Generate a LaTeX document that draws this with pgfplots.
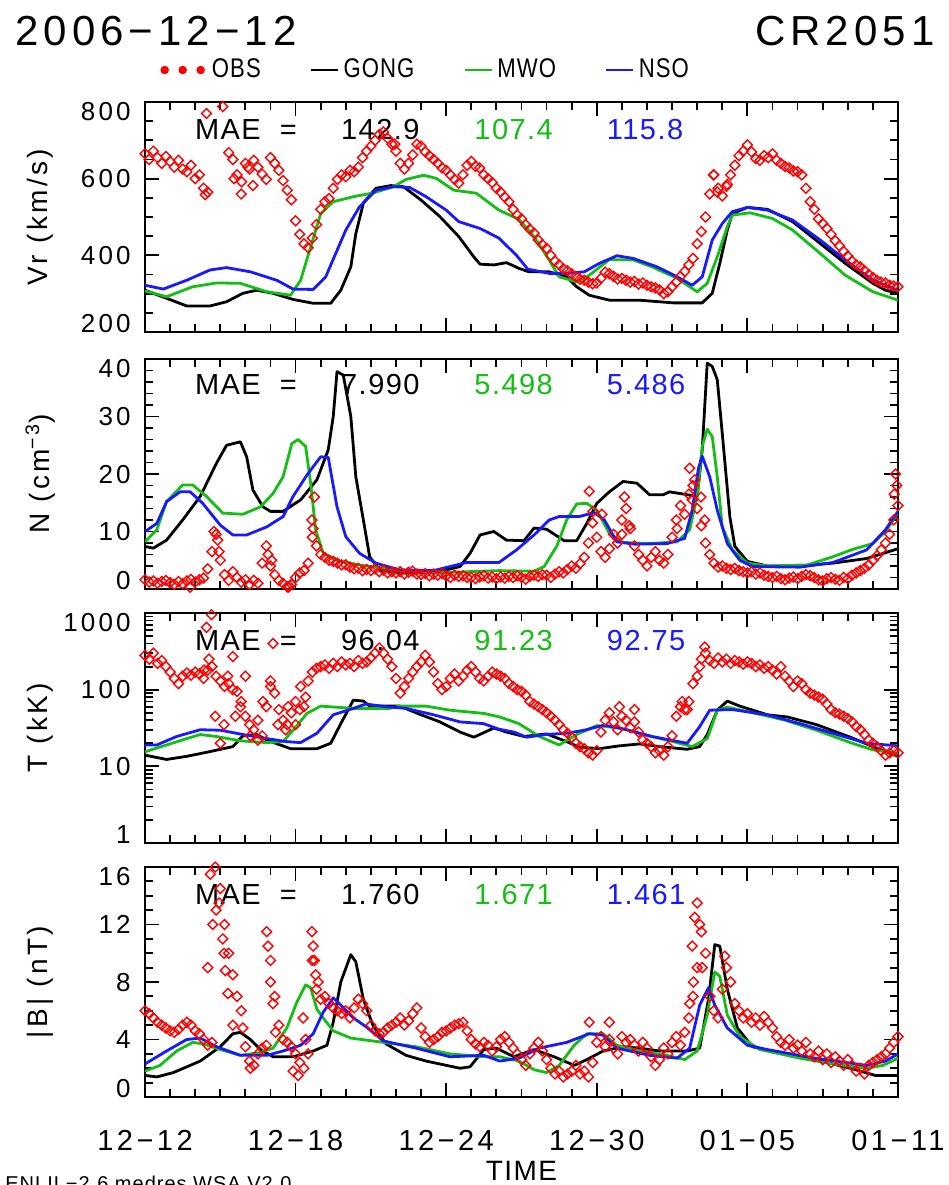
\documentclass[border=0pt]{standalone}
\usepackage{fontspec}
\setmainfont{Liberation Sans}[LetterSpace=12]
\newfontfamily\maefont{Liberation Sans}[LetterSpace=5]
\newfontfamily\legfont{Liberation Sans}[FakeStretch=0.82, LetterSpace=4]
\usepackage{pgfplots}
\usepackage{pgfplotstable}
\pgfplotsset{compat=1.18}

\definecolor{obsred}{RGB}{255,0,0}
\definecolor{mwogreen}{RGB}{20,190,20}
\definecolor{nsoblue}{RGB}{25,25,255}
\newcommand{\fsz}[1]{\fontsize{#1}{#1}\selectfont}
% first and last tick labels sit inside the axis span
\newcommand{\lo}[1]{\raisebox{4.65pt}{#1}}
\newcommand{\hi}[1]{\raisebox{-4.65pt}{#1}}

% Observed hourly-averaged solar wind, resampled every 4 hours (6 values per day from 12-12 00UT)
\pgfplotstableread[row sep=\\]{v\\
665\\650\\672\\655\\640\\658\\ 645\\630\\648\\625\\618\\635\\ 600\\610\\575\\565\\nan\\nan\\
nan\\nan\\668\\650\\610\\560\\ 640\\625\\648\\630\\612\\598\\ 655\\640\\622\\595\\570\\545\\
490\\455\\430\\420\\445\\480\\ 520\\540\\548\\575\\598\\610\\ 605\\622\\618\\630\\655\\672\\
685\\700\\715\\722\\705\\690\\ 672\\640\\625\\640\\662\\690\\ 685\\670\\660\\650\\640\\628\\
622\\610\\598\\588\\610\\635\\ 645\\632\\628\\610\\600\\590\\ 575\\565\\552\\540\\520\\505\\
495\\480\\468\\458\\440\\428\\ 418\\400\\385\\375\\365\\360\\ 352\\345\\338\\335\\330\\326\\
328\\340\\356\\352\\345\\338\\ 340\\335\\330\\332\\325\\328\\ 322\\318\\315\\310\\300\\305\\
318\\330\\345\\358\\375\\392\\ 430\\462\\500\\560\\610\\575\\ 555\\580\\610\\635\\660\\672\\
688\\670\\652\\648\\660\\655\\ 665\\648\\640\\632\\628\\620\\ 618\\610\\575\\540\\520\\495\\
483\\470\\455\\438\\425\\410\\ 398\\385\\375\\370\\360\\350\\ 342\\335\\330\\328\\322\\320\\
318\\}\obsVr

\pgfplotstableread[row sep=\\]{v\\
1.6\\1.2\\1.4\\1.0\\1.3\\1.5\\ 1.1\\0.8\\1.3\\0.9\\1.4\\1.7\\ 1.2\\1.6\\1.9\\3.5\\6.5\\9.5\\
5.0\\2.5\\1.5\\3.0\\2.0\\1.2\\ 1.6\\0.8\\1.5\\1.0\\4.5\\7.5\\ 4.0\\2.5\\1.5\\1.0\\0.4\\0.8\\
2.0\\2.8\\3.2\\4.5\\9.0\\7.5\\ 6.0\\5.5\\5.0\\4.8\\4.5\\4.2\\ 4.2\\3.8\\3.5\\3.6\\3.2\\3.4\\
3.2\\3.5\\3.0\\3.3\\2.8\\3.0\\ 2.8\\3.0\\2.6\\2.9\\3.1\\2.6\\ 2.5\\2.7\\2.3\\2.6\\2.4\\2.7\\
2.3\\2.0\\2.4\\2.2\\2.3\\2.0\\ 2.0\\1.8\\2.1\\2.3\\1.9\\2.1\\ 1.8\\2.1\\1.9\\2.2\\2.0\\2.3\\
2.0\\1.7\\2.2\\2.4\\2.2\\2.5\\ 2.4\\2.0\\2.6\\3.0\\2.8\\3.4\\ 4.0\\3.6\\4.4\\5.5\\8.0\\11.5\\
9.0\\6.5\\5.5\\7.0\\9.5\\8.0\\ 12.0\\14.0\\10.5\\7.5\\6.0\\5.0\\ 4.0\\5.5\\6.5\\5.0\\4.5\\6.0\\
9.0\\12.0\\14.5\\13.0\\16.5\\18.0\\ 14.0\\11.0\\8.0\\6.0\\4.5\\3.8\\ 4.0\\3.6\\3.4\\3.6\\3.2\\3.0\\
2.8\\3.0\\2.6\\2.8\\2.4\\2.2\\ 2.0\\2.2\\1.8\\1.6\\1.9\\2.1\\ 1.8\\2.2\\2.5\\2.3\\2.0\\1.6\\
1.4\\1.8\\2.0\\1.7\\1.5\\2.0\\ 1.8\\2.4\\2.8\\3.2\\3.6\\4.2\\ 5.0\\5.8\\6.8\\8.0\\9.5\\12.0\\
14.5\\}\obsN

\pgfplotstableread[row sep=\\]{v\\
280\\250\\300\\220\\240\\200\\ 170\\140\\120\\150\\165\\155\\ 170\\160\\140\\180\\200\\150\\
130\\110\\120\\100\\95\\70\\ 45\\35\\30\\40\\25\\60\\ 130\\90\\55\\40\\35\\50\\
70\\55\\60\\130\\170\\190\\ 200\\210\\190\\220\\200\\230\\ 210\\220\\200\\240\\220\\230\\
260\\300\\350\\300\\250\\200\\ 140\\90\\110\\140\\170\\200\\ 230\\280\\230\\170\\120\\100\\
110\\140\\160\\130\\150\\180\\ 200\\170\\140\\130\\150\\170\\ 160\\150\\140\\120\\110\\100\\
95\\85\\70\\65\\60\\55\\ 50\\45\\40\\35\\30\\27\\ 24\\20\\18\\17\\15\\14\\
16\\28\\40\\50\\38\\30\\ 45\\40\\32\\38\\28\\22\\ 20\\18\\15\\16\\14\\18\\
25\\45\\60\\55\\70\\120\\ 150\\250\\300\\240\\220\\260\\ 230\\250\\220\\240\\230\\215\\
230\\220\\200\\210\\190\\200\\ 180\\160\\200\\150\\130\\110\\ 130\\120\\100\\90\\85\\80\\
75\\65\\55\\50\\48\\45\\ 42\\38\\33\\30\\26\\22\\ 20\\18\\16\\14\\15\\16\\
15\\}\obsT

\pgfplotstableread[row sep=\\]{v\\
6.0\\5.8\\5.5\\5.2\\5.0\\4.8\\ 4.6\\4.5\\4.7\\5.0\\5.2\\5.0\\ 4.6\\4.4\\4.0\\3.6\\3.8\\13.0\\
14.5\\12.0\\10.0\\8.5\\7.0\\6.0\\ 3.5\\2.5\\2.2\\3.0\\3.4\\3.6\\ 9.5\\7.0\\5.0\\4.0\\3.8\\3.5\\
3.0\\2.4\\2.0\\3.0\\9.5\\7.5\\ 6.8\\7.0\\6.5\\6.2\\6.0\\5.8\\ 6.0\\5.5\\6.2\\6.8\\6.5\\6.0\\
5.0\\4.6\\4.4\\4.5\\4.8\\5.0\\ 5.2\\5.5\\5.0\\5.3\\5.8\\6.2\\ 4.8\\4.2\\3.8\\4.0\\4.2\\4.5\\
4.6\\4.8\\5.0\\5.1\\5.2\\4.6\\ 4.0\\3.7\\3.5\\3.8\\3.6\\3.2\\ 3.5\\4.0\\4.2\\3.8\\3.4\\3.0\\
2.6\\2.2\\3.0\\3.4\\3.8\\3.2\\ 2.6\\2.0\\1.6\\1.8\\1.4\\1.6\\ 1.8\\2.2\\1.6\\1.8\\1.4\\2.4\\
3.8\\4.2\\3.5\\4.0\\3.4\\3.0\\ 4.2\\3.8\\4.0\\3.6\\3.2\\3.8\\ 3.4\\2.8\\2.2\\2.6\\3.4\\3.0\\
3.8\\4.2\\3.6\\4.5\\5.5\\7.0\\ 9.0\\11.5\\10.0\\7.0\\6.0\\5.5\\ 7.5\\9.0\\8.0\\6.5\\6.0\\5.5\\
5.8\\5.2\\5.5\\5.0\\5.6\\5.2\\ 4.8\\4.2\\3.8\\3.6\\4.0\\3.4\\ 3.6\\3.2\\3.8\\3.0\\2.8\\3.2\\
2.6\\3.0\\2.4\\2.8\\2.5\\2.2\\ 2.6\\2.2\\1.8\\2.0\\1.6\\2.2\\ 2.4\\2.6\\2.8\\3.0\\3.4\\3.8\\
4.2\\}\obsB

\tikzset{mae/.style={anchor=base west, inner sep=0pt, font=\maefont\fsz{14.5}}}

\pgfplotsset{
  panel/.style={
    scale only axis, width=376.5pt, height=115pt,
    anchor=north west,
    xmin=0, xmax=30,
    xtick={0,6,12,18,24,30}, minor x tick num=5,
    xticklabels={},
    tick align=inside,
    major tick length=7pt, minor tick length=4pt,
    tick style={black, line width=0.9pt},
    axis line style={line width=1pt},
    yticklabel style={anchor=base east, inner sep=0pt, xshift=-7pt, yshift=-4.65pt, font=\fsz{13}},
    ylabel style={at={(axis description cs:-0.139,0.5)}, anchor=center, font=\fsz{14}},
    legend image code/.code={\draw[##1] (0pt,0pt) -- (13.5pt,0pt);},
  },
  obs/.style={obsred, only marks, mark=square, mark size=1.75pt,
    mark options={rotate=45, draw=obsred, line width=0.7pt, fill=none}},
  gong/.style={black, line width=1.4pt, line join=round},
  mwo/.style={mwogreen, line width=1.4pt, line join=round},
  nso/.style={nsoblue, line width=1.4pt, line join=round},
}

\begin{document}
\begin{tikzpicture}
\useasboundingbox (0,0) rectangle (474.5pt,-592.5pt);

\node[anchor=base west, inner sep=0pt, font=\fsz{21}] at (7.5pt,-22.5pt) {2006−12−12};
\node[anchor=base east, inner sep=0pt, font=\fsz{21}] at (467.5pt,-22.5pt) {CR2051};

% ---------------- radial speed ----------------
\begin{axis}[panel, at={(72.5pt,-51pt)},
  ymin=200, ymax=800, ytick={200,400,600,800}, yticklabels={\lo{200},400,600,\hi{800}},
  minor y tick num=3, ylabel={Vr (km/s)},
  legend columns=4,
  legend style={at={(axis description cs:0.02,1.139)}, anchor=west, draw=none,
    fill=none, inner sep=0pt, font=\legfont\fsz{13.5},
    /tikz/every even column/.append style={column sep=22.5pt}},
]
\node[mae] at (rel axis cs:0.066,0.835) {MAE\ \ =};
\node[mae] at (rel axis cs:0.260,0.835) {142.9};
\node[mae, mwogreen] at (rel axis cs:0.437,0.835) {107.4};
\node[mae, nsoblue] at (rel axis cs:0.613,0.835) {115.8};
\addplot[obs, legend image code/.code={\fill[obsred] (1.9pt,0pt) circle (1.9pt) (10.9pt,0pt) circle (1.9pt) (19.9pt,0pt) circle (1.9pt);}]
  table[x expr=\coordindex/6, y=v] {\obsVr};
\addlegendentry{\hspace{1.5pt}OBS\hspace{4pt}}
\addplot[obs, forget plot] coordinates {(2.45,770)(3.1,788)(2.4,558)(3.85,592)(4.3,582)(3.55,600)(9.95,690)(22.8,565)(23.2,585)(22.65,610)(4.1,630)};
\addplot[gong] coordinates {(0,309)(0.86,288)(1.66,268)(2.6,268)(3.25,279)(3.9,301)(4.45,309)(5.1,301)(5.9,285)(6.7,275)(7.4,275)(7.8,309)(8.2,370)(8.4,457)(8.7,536)(9.2,575)(9.8,582)(10.3,579)(11,544)(11.75,501)(12.5,449)(13.1,396)(13.35,377)(13.9,375)(14.4,381)(14.9,366)(15.3,357)(16.1,357)(16.8,344)(17.2,318)(17.7,296)(18.5,283)(19.7,283)(21.05,276)(22.2,276)(22.6,301)(22.9,379)(23.2,466)(23.4,509)(24,525)(24.8,520)(25.8,488)(26.9,431)(27.9,379)(29,327)(29.5,309)(30,301)};
\addlegendentry{GONG}
\addplot[mwo] coordinates {(0,307)(0.86,292)(1.9,318)(2.85,328)(3.8,327)(4.85,305)(5.8,296)(6.2,335)(6.6,422)(7,509)(7.5,540)(8.3,553)(9.1,563)(9.9,579)(10.4,598)(11.1,609)(11.6,601)(12.3,570)(13.2,562)(14.1,518)(14.9,494)(15.5,449)(16.1,388)(16.5,344)(17.2,331)(17.7,348)(18.5,389)(19.45,388)(20.2,370)(21.2,340)(22,305)(22.4,327)(22.8,396)(23.2,475)(23.4,505)(24.1,511)(25,496)(25.8,466)(26.9,405)(27.9,348)(29,305)(30,283)};
\addlegendentry{MWO}
\addplot[nso] coordinates {(0,322)(0.73,312)(1.66,335)(2.6,362)(3.25,368)(4.2,357)(5.25,335)(5.9,312)(6.7,311)(7.2,344)(7.6,405)(8,466)(8.55,527)(9.2,570)(9.9,579)(10.55,577)(11.2,553)(12,518)(12.5,488)(13.35,470)(14.1,445)(14.8,400)(15.25,364)(16.1,353)(16.8,353)(17.5,357)(18.1,379)(18.8,399)(19.45,392)(20.4,370)(21.2,344)(21.8,322)(22.2,344)(22.6,440)(23,483)(23.4,514)(24,525)(24.8,518)(25.8,492)(26.9,440)(27.9,388)(29,335)(30,309)};
\addlegendentry{NSO}
\end{axis}

% ---------------- density ----------------
\begin{axis}[panel, at={(72.5pt,-179.5pt)},
  ymin=0, ymax=40, ytick={0,10,20,30,40}, yticklabels={\lo{0},10,20,30,\hi{40}},
  minor y tick num=4, ylabel={N (cm\textsuperscript{−3})},
]
\node[mae] at (rel axis cs:0.066,0.845) {MAE\ \ =};
\node[mae] at (rel axis cs:0.260,0.845) {7.990};
\node[mae, mwogreen] at (rel axis cs:0.437,0.845) {5.498};
\node[mae, nsoblue] at (rel axis cs:0.613,0.845) {5.486};
\addplot[obs] table[x expr=\coordindex/6, y=v] {\obsN};
\addplot[obs] coordinates {(2.9,8.5)(2.75,10.0)(2.95,6.5)(4.9,6.0)(5.05,5.0)(6.65,12.0)(6.75,16.0)(6.7,10.5)(17.7,17.0)(17.85,13.5)(18.2,13.0)(19.1,16.0)(19.3,11.0)(19.0,9.5)(21.2,10.5)(21.7,21.0)(21.9,19.0)(21.8,15.5)(22.3,12.0)(22.15,16.0)(29.9,20.0)(29.95,18.0)(29.85,16.5)(5.7,0.3)(5.75,0.5)(1.8,0.3)};
\addplot[gong] coordinates {(0,7.4)(0.33,7.1)(0.86,8.5)(1.5,12)(2.2,16.1)(2.85,21.9)(3.25,25)(3.8,25.6)(4.05,23)(4.3,17.2)(4.7,14.3)(5,13.5)(5.5,13.5)(6.2,15.5)(6.85,19)(7.3,24.2)(7.5,30)(7.65,37.8)(7.9,37.2)(8.2,30)(8.4,19.5)(8.7,12)(8.95,5.6)(9.35,3.3)(10.15,2.8)(11.5,2.8)(12.55,3.9)(12.95,6.2)(13.35,9.4)(13.9,10)(14.4,8.5)(15.1,8.4)(15.5,10.6)(16,10.4)(16.7,8.4)(17.2,8.4)(17.6,11.4)(18,14.9)(18.5,16.9)(19.05,18.7)(19.6,18.4)(20.1,16.4)(20.65,16.4)(20.9,16.9)(21.6,16.4)(22,16.1)(22.2,24.2)(22.4,39.3)(22.6,38.7)(22.8,36.4)(23,27)(23.3,12.6)(23.5,7.4)(24,4.8)(24.8,4)(26.1,4)(27.4,4.5)(28.75,5.3)(30,7)};
\addplot[mwo] coordinates {(0,8.2)(0.47,10.3)(0.86,15.2)(1.5,18.1)(1.9,18.1)(2.45,16.1)(3.1,13.2)(3.9,13)(4.6,14.3)(5.1,16.6)(5.5,19.5)(5.85,25.3)(6.1,26)(6.4,24.8)(6.6,18.4)(6.8,10.3)(7.1,6.2)(7.8,4.8)(8.8,4)(10.15,3.3)(11.5,2.8)(14.1,3.2)(15.5,3.1)(15.9,3.9)(16.4,7.4)(16.8,12)(17.2,14.8)(17.6,14.9)(18,13.7)(18.5,9.7)(19.05,8.1)(20.1,7.9)(21.2,8.2)(21.7,10.3)(22,16.1)(22.2,24.8)(22.4,27.8)(22.6,26.5)(22.8,19.5)(23,10.8)(23.4,6.8)(24,4.5)(24.8,4)(26.4,4.2)(27.4,5.6)(28.2,6.9)(29,7.9)(29.5,10)(30,13.2)};
\addplot[nso] coordinates {(0,10)(0.47,11.4)(0.86,15.2)(1.4,16.9)(1.8,16.9)(2.3,14.9)(3,11.1)(3.5,9.4)(4.05,9.4)(4.85,10.8)(5.5,12.6)(5.9,16.1)(6.45,19.8)(7,23)(7.3,22.9)(7.65,14.3)(8,9.1)(8.55,6.2)(9.2,4.5)(10.15,3.3)(11.5,3.2)(12.8,4.6)(14.1,4.6)(14.8,6.8)(15.5,9.4)(16.1,12)(16.5,12.6)(17.3,12.6)(17.9,13.3)(18.3,12)(18.8,8.2)(19.5,7.8)(20.8,7.9)(21.5,8.8)(21.8,13.7)(22.05,21)(22.2,23.1)(22.5,19.5)(22.8,13.7)(23.2,7.9)(23.7,5)(24.2,3.9)(26.1,3.8)(27.4,4.6)(28.75,6.8)(29.5,10.3)(30,13.5)};
\end{axis}

% ---------------- temperature ----------------
\begin{axis}[panel, at={(72.5pt,-306.5pt)},
  ymode=log, ymin=1, ymax=1000, ytick={1,10,100,1000}, yticklabels={\lo{1},10,100,\hi{1000}},
  minor ytick={2,3,4,5,6,7,8,9,20,30,40,50,60,70,80,90,200,300,400,500,600,700,800,900},
  ylabel={T (kK)},
]
\node[mae] at (rel axis cs:0.066,0.838) {MAE\ \ =};
\node[mae] at (rel axis cs:0.260,0.838) {96.04};
\node[mae, mwogreen] at (rel axis cs:0.437,0.838) {91.23};
\node[mae, nsoblue] at (rel axis cs:0.613,0.838) {92.75};
\addplot[obs] table[x expr=\coordindex/6, y=v] {\obsT};
\addplot[obs] coordinates {(2.65,950)(2.45,650)(2.55,250)(2.8,45)(3.0,20)(3.3,150)(3.5,270)(3.8,60)(4.0,150)(4.2,25)(4.5,22)(5.1,400)(5.0,110)(4.7,70)(5.3,35)(6.2,110)(6.4,80)(5.7,60)(18.9,60)(19.5,55)(21.4,70)(21.6,55)(2.35,180)(3.15,35)(3.6,45)(5.6,30)(6.0,35)(22.3,360)(22.1,200)};
\addplot[gong] coordinates {(0,14)(0.86,12.3)(1.66,13.5)(2.6,15.6)(3.5,18.1)(3.9,25)(4.45,26)(4.85,22)(5.8,17)(6.85,17)(7.4,20)(7.8,36)(8.3,73)(8.7,71)(8.95,61)(10.15,61)(11,47)(11.75,38)(12.55,28)(13.1,24)(13.9,31.6)(14.4,28)(15.1,24.5)(16,26.5)(16.8,21)(17.3,17.8)(18.1,17)(18.9,18.5)(19.7,19.6)(20.5,18.1)(21.6,16.7)(22.1,18.1)(22.4,26)(22.8,54)(23.2,71)(23.7,61)(24.8,47)(25.6,44)(26.75,35)(28.1,24)(29,18.1)(30,13.5)};
\addplot[mwo] coordinates {(0,15.5)(0.86,19)(1.66,23)(2.2,26)(2.85,24.5)(3.8,21.5)(4.85,20.4)(5.5,21)(5.9,29.6)(6.45,49)(7,61)(8.3,57)(9.75,57)(10.15,61)(11.2,61)(12.15,54)(13.5,49)(14.14,44)(14.9,36)(15.7,24.6)(16.5,19)(17.2,26)(18,34)(18.9,31.6)(19.85,26)(21.05,21)(21.8,18.1)(22.4,23)(22.8,54)(23.2,59)(24.1,51)(25.5,40)(26.75,29.6)(28.1,20.4)(29,16.4)(30,14.8)};
\addplot[nso] coordinates {(0,19)(0.47,19)(1.26,24.5)(2.2,30)(3,29.6)(3.9,26)(4.85,23)(5.65,21)(6.2,20.4)(6.85,27)(7.5,47)(8.3,57)(8.8,65)(9.6,60)(10.4,57)(11.5,47)(12.55,38)(13.5,36)(14.1,30.5)(14.7,28)(15.2,24)(15.95,26)(16.8,27)(17.5,29.6)(18.3,34.5)(19.2,30)(20.2,24.5)(21.6,20)(22.1,33)(22.5,54)(23.4,55)(24.8,47)(26.1,36)(27.4,27)(28.75,20)(30,18.5)};
\end{axis}

% ---------------- magnetic field ----------------
\begin{axis}[panel, at={(72.5pt,-433.5pt)},
  ymin=0, ymax=16, ytick={0,4,8,12,16}, yticklabels={\lo{0},4,8,12,\hi{16}},
  minor y tick num=3, ylabel={|B| (nT)},
  xticklabels={12−12,12−18,12−24,12−30,01−05,01−11},
  xticklabel style={anchor=base, yshift=-26.5pt, font=\fsz{14.5}},
  xlabel={TIME},
  xlabel style={at={(axis description cs:0.5,-0.361)}, anchor=base, font=\maefont\fsz{14}},
]
\node[mae] at (rel axis cs:0.066,0.836) {MAE\ \ =};
\node[mae] at (rel axis cs:0.260,0.836) {1.760};
\node[mae, mwogreen] at (rel axis cs:0.437,0.836) {1.671};
\node[mae, nsoblue] at (rel axis cs:0.613,0.836) {1.461};
\addplot[obs] table[x expr=\coordindex/6, y=v] {\obsB};
\addplot[obs] coordinates {(2.6,15.5)(2.7,12.0)(2.8,16.0)(2.95,13.5)(3.1,11.0)(3.15,10.0)(3.2,8.8)(2.5,9.0)(3.3,7.2)(3.5,5.0)(3.9,4.8)(4.85,11.5)(4.9,10.5)(5.0,8.0)(5.1,6.5)(5.2,4.5)(6.65,11.5)(6.7,10.5)(6.8,8.5)(6.75,9.5)(6.9,8.0)(4.2,2.0)(6.1,1.5)(5.9,1.8)(21.9,12.5)(22.0,13.5)(22.1,12.0)(21.8,10.5)(21.85,8.0)(21.7,6.5)(22.2,9.0)(23.1,9.8)(17.7,5.2)(18.5,5.2)(6.4,4.0)(6.3,5.5)};
\addplot[gong] coordinates {(0,1.5)(0.47,1.4)(1.13,1.7)(2.2,2.5)(3,3.5)(3.5,4.4)(3.8,4.5)(4.2,4)(4.6,3.3)(5.1,2.8)(5.9,2.8)(6.7,3.2)(7.25,3.6)(7.5,5.2)(7.8,8)(8.2,9.9)(8.4,9.4)(8.7,6.8)(9.1,4.9)(9.6,3.7)(10.4,2.9)(11.2,2.5)(12.55,2)(12.95,2.1)(13.5,3.3)(14,3.4)(14.7,2.8)(15.5,3.3)(16.3,2.8)(17.1,2.2)(17.6,2.6)(18.25,3.2)(19.05,3.5)(19.7,3.4)(20.5,3.2)(21.6,3.2)(22.1,3.4)(22.45,6.8)(22.7,10.6)(22.9,10.5)(23.2,7.5)(23.6,4.8)(24.2,3.5)(25.4,3)(26.7,2.6)(28.1,2)(29.1,1.5)(30,1.5)};
\addplot[mwo] coordinates {(0,1.8)(0.6,2.2)(1.26,3.2)(1.9,3.8)(2.3,3.7)(3,3.3)(3.8,2.9)(4.6,3.1)(5.1,3.4)(5.65,4.8)(6.05,6.6)(6.4,7.8)(6.6,7.6)(6.85,6.1)(7.1,5.5)(7.5,4.6)(8.2,4.1)(9.5,3.8)(10.8,3.5)(12.15,3)(13.5,2.8)(14.14,2.8)(14.9,2.5)(15.5,1.9)(16,1.7)(16.5,2.2)(17.1,3.6)(17.6,4.4)(18.25,4.4)(18.8,3.6)(19.7,3.2)(20.8,2.9)(21.5,2.6)(22,3.2)(22.4,5.7)(22.7,8.7)(22.9,8.4)(23.2,5.7)(23.7,4.2)(24.5,3.3)(26.1,2.7)(27.4,2.3)(28.75,2)(29.4,2.2)(30,2.7)};
\addplot[nso] coordinates {(0,2.3)(0.86,3.2)(1.66,4)(2.2,4.1)(2.85,3.5)(3.8,2.9)(4.85,2.9)(5.5,3.2)(6.2,3.6)(6.7,4.4)(7.1,5.9)(7.5,6.9)(7.8,6.4)(8.3,5.5)(8.8,4.9)(9.5,3.9)(10.8,3.4)(12.15,2.8)(13.5,2.9)(14.14,2.5)(14.9,2.7)(15.7,3.4)(16.8,3.8)(17.7,4.4)(18.25,4.3)(18.8,3.4)(20.1,2.9)(21.2,2.7)(21.7,3.4)(22.1,6.4)(22.45,7.6)(22.7,6.4)(23.2,4.8)(24,3.6)(24.8,3.3)(26.7,2.7)(28.75,2.2)(29.5,2.5)(30,3)};
\end{axis}

\node[anchor=base west, inner sep=0pt, font=\maefont\fsz{10}] at (2.5pt,-595pt) {ENLIL−2.6 medres WSA V2.0};
\end{tikzpicture}
\end{document}
